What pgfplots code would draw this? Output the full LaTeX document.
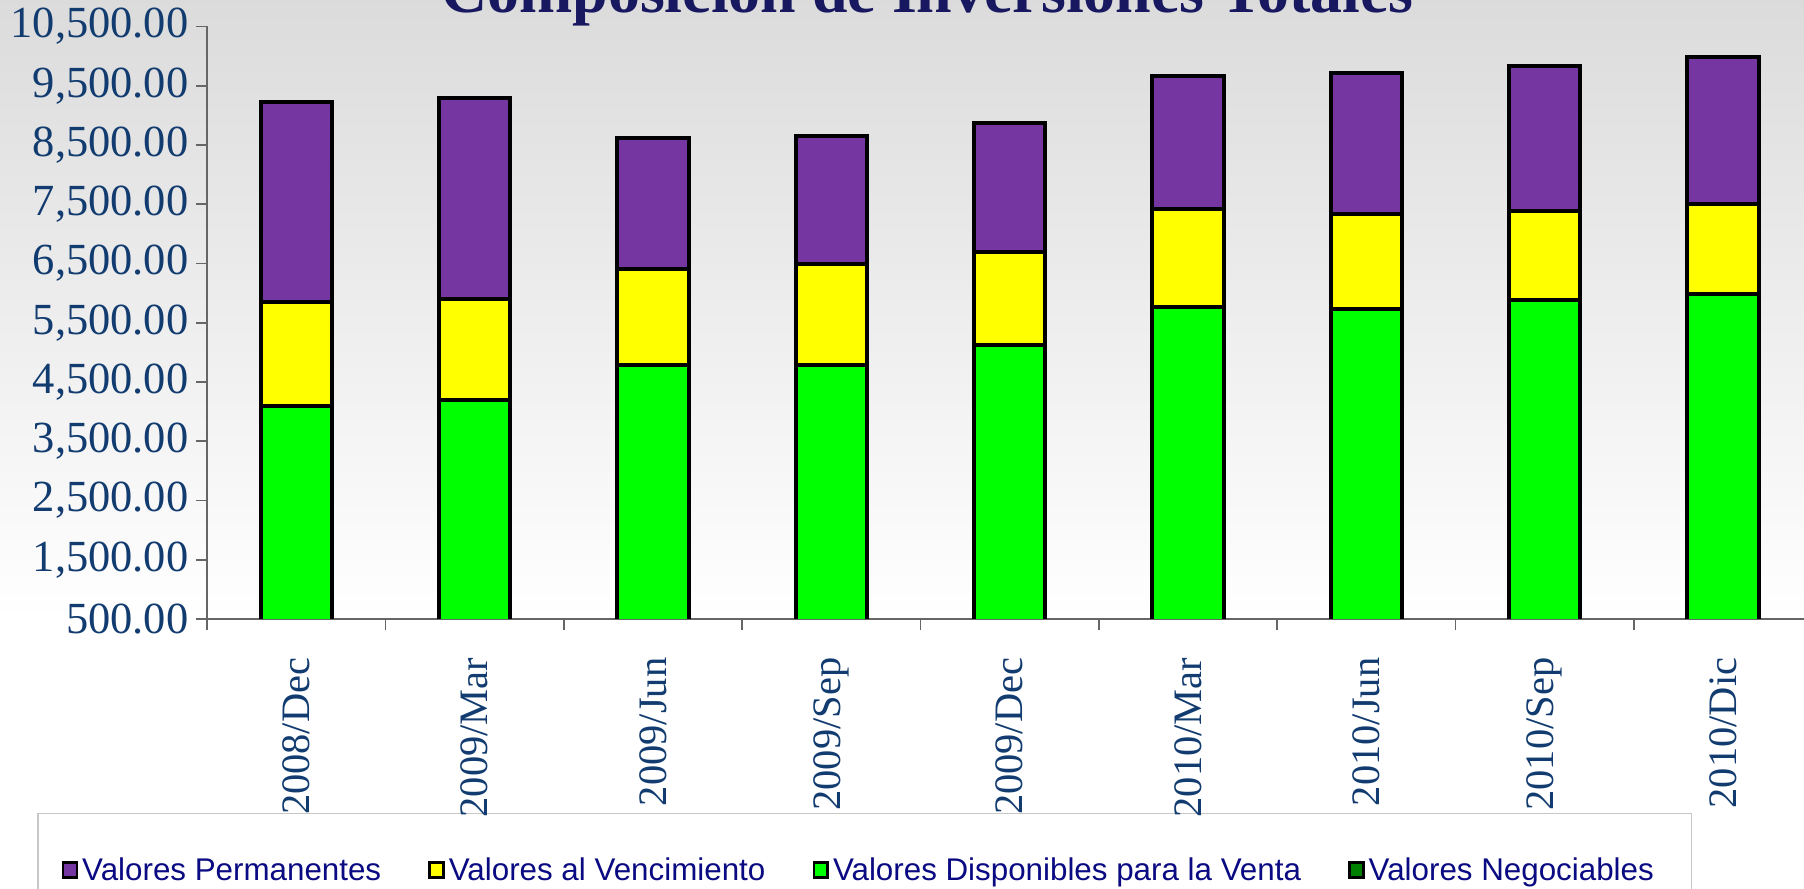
\documentclass[border=0pt]{standalone}
\usepackage{fontspec}
\setmainfont{Liberation Serif}
\setsansfont{Liberation Sans}
\usepackage{pgfplots}
\pgfplotsset{compat=1.18}
\definecolor{permanentes}{RGB}{117,54,162}
\definecolor{vencimiento}{RGB}{255,255,0}
\definecolor{disponibles}{RGB}{0,255,0}
\definecolor{negociables}{RGB}{0,128,0}
\definecolor{tickblue}{RGB}{18,60,112}
\definecolor{legendblue}{RGB}{10,10,130}
\definecolor{titleblue}{RGB}{24,24,96}

\begin{document}
\begin{tikzpicture}
% background and legend frame
\shade[top color=black!14, bottom color=white] (0,4.68) rectangle (31.36,15.44);
\draw[black!22, fill=white, line width=0.6pt] (0.66,1.30) rectangle (29.4,-1);
\node[anchor=base, font=\bfseries\fontsize{31.6}{36}\selectfont, text=titleblue]
  at (16.12,15.22) {Composición de Inversiones Totales};

\begin{axis}[
    at={(3.6cm,4.68cm)}, anchor=south west,
    scale only axis, width=27.9cm, height=10.3cm,
    ybar stacked, bar width=1.24cm,
    enlargelimits=false,
    xmin=-0.5, xmax=8.5, ymin=500, ymax=10500,
    axis x line*=bottom, axis y line*=left,
    axis line style={black!60, line width=0.9pt},
    tick style={black!60, line width=0.9pt},
    tick align=outside, major tick length=0.2cm,
    xtick={-0.5,0.5,...,8.5},
    x tick label as interval,
    xticklabels={2008/Dec,2009/Mar,2009/Jun,2009/Sep,2009/Dec,2010/Mar,2010/Jun,2010/Sep,2010/Dic},
    xticklabel style={rotate=90, anchor=east, font=\fontsize{20}{24}\selectfont, text=tickblue},
    xticklabel shift=0.35cm,
    ytick={500,1500,...,10500},
    scaled y ticks=false,
    yticklabel style={font=\fontsize{22}{26}\selectfont, text=tickblue},
    y tick label style={/pgf/number format/fixed, /pgf/number format/fixed zerofill,
      /pgf/number format/precision=2, /pgf/number format/1000 sep={,},
      /pgf/number format/assume math mode=true},
    every axis plot/.append style={draw=black, line width=2pt},
    reverse legend,
    legend columns=4,
    legend style={at={(-0.0946,-0.425)}, anchor=west, draw=none, fill=none,
      font=\sffamily\fontsize{15.5}{18.5}\selectfont\color{legendblue},
      /tikz/every even column/.append style={column sep=0.75cm}},
    legend image code/.code={\draw[#1, line width=1.3pt] (0cm,-0.12cm) rectangle (0.24cm,0.14cm);},
]
% Valores Negociables (nearly nil)
\addplot[fill=negociables] coordinates {(0,0) (1,0) (2,0) (3,0) (4,0) (5,0) (6,0) (7,0) (8,0)};
% Valores Disponibles para la Venta
\addplot[fill=disponibles] coordinates {(0,4087) (1,4195) (2,4785) (3,4785) (4,5127) (5,5773) (6,5734) (7,5886) (8,5987)};
% Valores al Vencimiento
\addplot[fill=vencimiento] coordinates {(0,1770) (1,1708) (2,1619) (3,1708) (4,1574) (5,1642) (6,1597) (7,1506) (8,1513)};
% Valores Permanentes
\addplot[fill=permanentes] coordinates {(0,3368) (1,3395) (2,2209) (3,2159) (4,2170) (5,2254) (6,2378) (7,2445) (8,2489)};
\legend{Valores Negociables,Valores Disponibles para la Venta,Valores al Vencimiento,Valores Permanentes}
\end{axis}
\pgfresetboundingbox
\useasboundingbox (0,0) rectangle (31.36,15.44);
\end{tikzpicture}
\end{document}
